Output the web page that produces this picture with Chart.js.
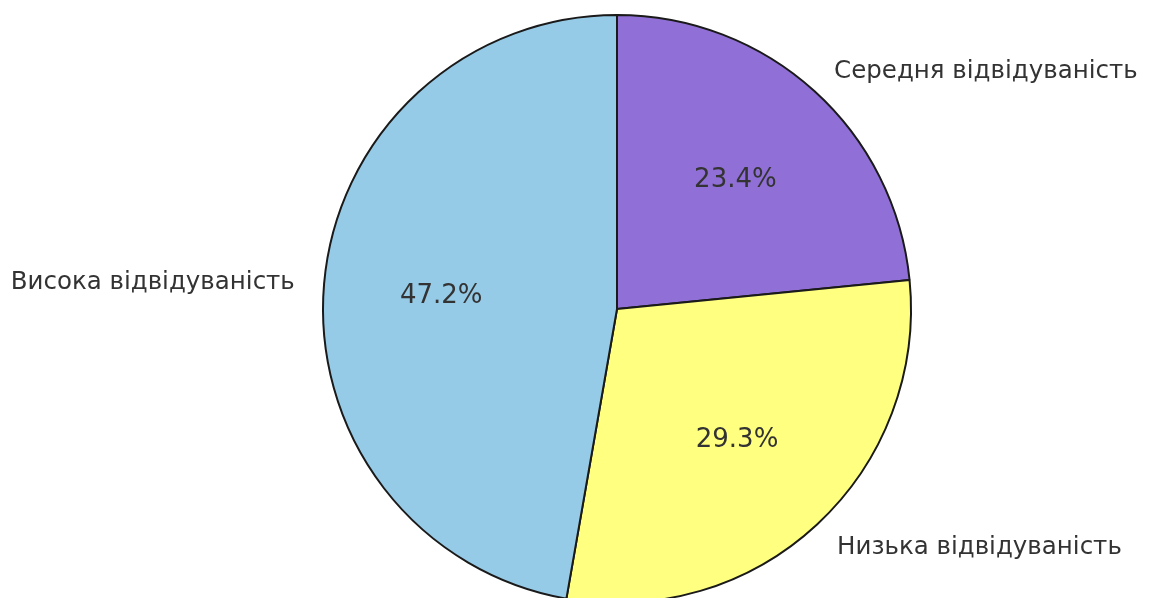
<!DOCTYPE html>
<html>
<head>
<meta charset="utf-8">
<script src="https://cdn.jsdelivr.net/npm/chart.js@4.4.1/dist/chart.umd.min.js"></script>
<style>
  html, body { margin: 0; padding: 0; background: #fff; overflow: hidden; }
  #wrap { width: 1149px; height: 620px; position: relative; }
</style>
</head>
<body>
<div id="wrap"><canvas id="pieChart" width="1149" height="620"></canvas></div>
<script>
// дані
const labels = ['Середня відвідуваність', 'Низька відвідуваність', 'Висока відвідуваність'];
const values = [23.4, 29.3, 47.2];
const colors = ['#9070d6', '#ffff80', '#96cbe7'];

// підписи як у matplotlib: назва на 1.1r, відсоток на 0.6r
const pieLabels = {
    id: 'pieLabels',
    afterDatasetsDraw(chart) {
        const ctx = chart.ctx;
        const meta = chart.getDatasetMeta(0);
        ctx.save();
        ctx.fillStyle = '#333';
        ctx.textBaseline = 'middle';
        meta.data.forEach((arc, i) => {
            const p = arc.getProps(['x', 'y', 'startAngle', 'endAngle', 'outerRadius'], true);
            const mid = (p.startAngle + p.endAngle) / 2;
            const cos = Math.cos(mid), sin = Math.sin(mid);

            const lx = p.x + cos * p.outerRadius * 1.1;
            const ly = p.y + sin * p.outerRadius * 1.1;
            ctx.font = '24.5px "DejaVu Sans"';
            ctx.textAlign = cos >= 0 ? 'left' : 'right';
            ctx.fillText(labels[i], lx, ly + 2);

            const px = p.x + cos * p.outerRadius * 0.6;
            const py = p.y + sin * p.outerRadius * 0.6;
            ctx.font = '26px "DejaVu Sans"';
            ctx.textAlign = 'center';
            ctx.fillText(values[i].toFixed(1) + '%', px, py + 2);
        });
        ctx.restore();
    }
};

const ctxPie = document.getElementById('pieChart').getContext('2d');
const pieChart = new Chart(ctxPie, {
    type: 'pie',
    data: {
        labels: labels,
        datasets: [{
            data: values,
            backgroundColor: colors,
            borderColor: '#1a1a1a',
            borderWidth: 2
        }]
    },
    options: {
        responsive: false,
        animation: false,
        layout: { padding: { left: 322, right: 237, top: 13, bottom: 15 } },
        plugins: {
            legend: { display: false },
            tooltip: { enabled: false }
        }
    },
    plugins: [pieLabels]
});
</script>
</body>
</html>
